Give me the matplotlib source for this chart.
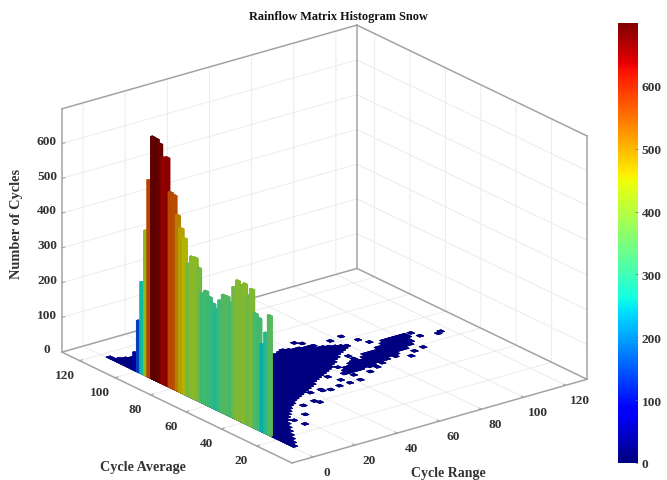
import matplotlib
matplotlib.use("Agg")
import matplotlib.pyplot as plt
import numpy as np
from matplotlib.cm import ScalarMappable
from matplotlib.colors import Normalize
from matplotlib.transforms import Affine2D

plt.rcParams['font.family'] = ['Liberation Serif', 'DejaVu Serif']
plt.rcParams['font.weight'] = 'bold'

TEXT = '#333333'
EDGE = '#a3a3a3'
BAR_SHADE = 0.72

bar_avg = list(range(100, 22, -2))
bar_count = [52, 148, 264, 417, 567, 697, 696, 687, 652, 657, 562, 559, 506, 473, 449, 381, 406, 408, 384, 315,
             327, 315, 301, 287, 319, 340, 341, 328, 377, 401, 393, 402, 373, 396, 331, 323, 252, 290, 345]

wedge_range = list(range(0, 80, 2))
wedge_low = [11, 14, 17, 20, 23, 26, 29, 32, 34, 36, 38, 40, 42, 43, 45, 46, 47, 48, 49, 50,
             51, 52, 53, 55, 56, 57, 58, 59, 60, 61, 62, 64, 65, 67, 68, 70, 71, 72, 73, 74]
wedge_high = [116, 114, 112, 111, 109, 108, 106, 105, 103, 101, 100, 98, 97, 95, 94, 92, 91, 89, 88, 87,
              85, 84, 83, 83, 82, 84, 84, 85, 85, 84, 83, 84, 82, 82, 80, 80, 78, 78, 77, 76]

blob_range = list(range(60, 104, 2))
blob_low = [54, 54, 54, 54, 54, 55, 54, 52, 56, 54, 56, 56, 58, 56, 58, 60, 60, 60, 62, 62, 64, 68]
blob_high = [56, 58, 60, 60, 62, 62, 64, 62, 64, 64, 66, 66, 66, 68, 68, 70, 70, 72, 72, 72, 72, 72]

scatter_range = [64, 66, 68, 76, 82, 85, 87, 92, 105, 106, 100, 95, 91, 115, 113, 35, 43, 38, 28, 23, 17, 16,
                 34, 46, 51, 55, 53, 62, 72, 72, 61, 62, 56, 78, 69, 43]
scatter_avg = [87, 85, 81, 81, 82, 76, 72, 70, 70, 66, 57, 56, 53, 65, 64, 38, 46, 47, 39, 32, 25, 30,
               40, 45, 46, 50, 55, 60, 66, 63, 46, 51, 46, 64, 50, 47]

x_ticks = [0, 20, 40, 60, 80, 100, 120]
y_ticks = [20, 40, 60, 80, 100, 120]
z_ticks = [0, 100, 200, 300, 400, 500, 600]
cbar_ticks = [0, 100, 200, 300, 400, 500, 600]
x_lim = (-10, 130)
y_lim = (0, 130)
z_lim = (0, 700)

W, H = 667, 481
fig = plt.figure(figsize=(W / 100, H / 100), dpi=100, facecolor='white')
L = 700
cx, cy = 315, 254.5
ax = fig.add_axes([(cx - L / 2) / W, (H - cy - L / 2) / H, L / W, L / H], projection='3d', proj_type='ortho')
ax.computed_zorder = False
ax.patch.set_alpha(0)
ax.view_init(elev=21.7, azim=-127.5)
ax.set_box_aspect((372, 378, 262), zoom=574 / L)

norm = Normalize(0, 700)
cmap = plt.get_cmap('jet')
navy = cmap(0.0)

def shaded(value):
    r, g, b, a = cmap(norm(value))
    return (r * BAR_SHADE, g * BAR_SHADE, b * BAR_SHADE, a)

# floor cells
cells_r, cells_a = [], []
for rng, lo, hi in list(zip(wedge_range, wedge_low, wedge_high)) + list(zip(blob_range, blob_low, blob_high)):
    for a in range(lo, hi, 2):
        cells_r.append(rng)
        cells_a.append(a)
cells_r += scatter_range
cells_a += scatter_avg
floor = ax.bar3d(cells_r, cells_a, np.zeros(len(cells_r)), 2, 2, 1, color=navy, shade=False, zorder=2)
floor.set_edgecolor(navy)
floor.set_linewidth(0.2)

# bars (drawn far to near so the nearer ones overlap)
order = np.argsort(bar_avg)[::-1]
for z, i in enumerate(order):
    c = shaded(bar_count[i])
    b = ax.bar3d(0, bar_avg[i], 0, 1.0, 2, bar_count[i], color=c, shade=False, zorder=3 + z)
    b.set_edgecolor(c)
    b.set_linewidth(0.2)

ax.set_xticks(x_ticks)
ax.set_yticks(y_ticks)
ax.set_zticks(z_ticks)
ax.tick_params(labelsize=9.6, labelcolor=TEXT, pad=0, color=EDGE)
for axis in (ax.xaxis, ax.yaxis, ax.zaxis):
    axis.set_pane_color((1, 1, 1, 1))
    axis.pane.set_edgecolor((1, 1, 1, 0))
    axis.line.set_color((1, 1, 1, 0))
    axis._axinfo['grid'].update(color='#ececec', linewidth=0.7)
    axis._axinfo['tick'].update(linewidth={True: 0.8, False: 0.5}, inward_factor=0.0, outward_factor=0.12)

# box frame
x0, x1 = x_lim
y0, y1 = y_lim
z0, z1 = z_lim
segments = [
    ((x0, x1), (y0, y0), (z0, z0)), ((x0, x0), (y0, y1), (z0, z0)),
    ((x1, x1), (y0, y1), (z0, z0)), ((x0, x1), (y1, y1), (z0, z0)),
    ((x0, x0), (y1, y1), (z0, z1)), ((x1, x1), (y1, y1), (z0, z1)),
    ((x1, x1), (y0, y0), (z0, z1)),
    ((x0, x1), (y1, y1), (z1, z1)), ((x1, x1), (y0, y1), (z1, z1)),
]
for sx, sy, sz in segments:
    ax.plot(sx, sy, sz, color=EDGE, lw=1.1, zorder=1)

ax.set_xlim(*x_lim, view_margin=0)
ax.set_ylim(*y_lim, view_margin=0)
ax.set_zlim(*z_lim, view_margin=0)

# nudge the tick labels to where the reference keeps them (pixels); the 3D axis
# resets label transforms whenever it fetches ticks, so pin the shifted one
for axis, dx, dy in ((ax.xaxis, 7, 2), (ax.yaxis, -6, 2), (ax.zaxis, 1, 8)):
    for tick in axis.get_major_ticks():
        tick.label1.set_transform(ax.transData + Affine2D().translate(dx, dy))
        tick.label1.set_transform = lambda t: None

fig.text(338 / W, 1 - 17 / H, 'Rainflow Matrix Histogram Snow', ha='center', va='center', fontsize=8.8, color='#111111')
fig.text(143 / W, 1 - 468 / H, 'Cycle Average', ha='center', va='center', fontsize=10.2, color=TEXT)
fig.text(448 / W, 1 - 474 / H, 'Cycle Range', ha='center', va='center', fontsize=10, color=TEXT)
fig.text(17 / W, 1 - 224 / H, 'Number of Cycles', ha='center', va='center', rotation=90, fontsize=10.4, color=TEXT)

cax = fig.add_axes([618 / W, (H - 464) / H, 19.5 / W, 440 / H])
cb = fig.colorbar(ScalarMappable(norm=norm, cmap=cmap), cax=cax, ticks=cbar_ticks)
cb.outline.set_visible(False)
cb.ax.tick_params(labelsize=9.6, labelcolor=TEXT, length=2, width=0.5, color='#777777', direction='in', pad=3)

fig.savefig('out.png', dpi=100)
